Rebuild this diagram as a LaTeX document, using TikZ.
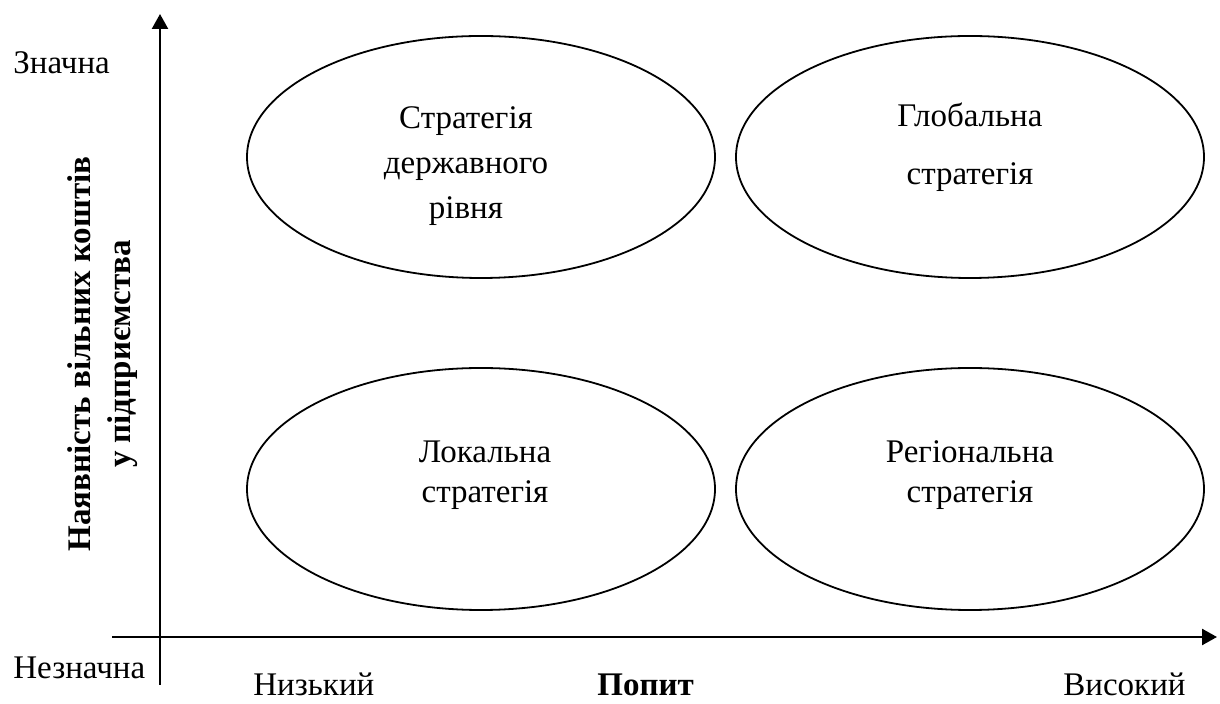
\documentclass[tikz,border=0pt]{standalone}
\usepackage{fontspec}
\setmainfont{Liberation Serif}
\usetikzlibrary{arrows.meta,positioning,shapes.geometric}
\tikzset{
oval/.style={draw,ellipse,line width=.9pt,minimum width=234pt,minimum height=121pt,inner sep=0pt},
stext/.style={align=center,inner sep=0pt,font=\fontsize{16.5}{22.5}\selectfont},
axlabel/.style={inner sep=0pt,font=\fontsize{16.5}{20}\selectfont},
axis/.style={-{Triangle[length=7.5pt,width=8pt]},line width=1.2pt}
}

\begin{document}
\begin{tikzpicture}[x=.5pt,y=-.5pt]
\useasboundingbox (0,0) rectangle (1220,704);
\coordinate (ybot) at (160,685);
\coordinate (ytop) at (160,14);
\coordinate (xleft) at (112,637);
\coordinate (xright) at (1217,637);

\draw[axis](ybot)--(ytop);
\draw[axis](xleft)--(xright);

\node[oval] (tl) at (481,157) {};
\node[oval] (tr) at (970,157) {};
\node[oval] (bl) at (481,489) {};
\node[oval] (br) at (970,489) {};

\node[stext] (tltext) at (466,166) {Стратегія\\державного\\рівня};
\node[stext,font=\fontsize{16.5}{29}\selectfont] (trtext) at (970,147) {Глобальна\\стратегія};
\node[stext,font=\fontsize{16.5}{20}\selectfont] (bltext) at (485,475) {Локальна\\стратегія};
\node[stext,font=\fontsize{16.5}{20}\selectfont] (brtext) at (970,475) {Регіональна\\стратегія};

\node[axlabel,anchor=base west] (high) at (13,74) {Значна};
\node[axlabel,anchor=base west] (low) at (13,678) {Незначна};
\node[axlabel,anchor=base west] (lowd) at (253,696) {Низький};
\node[axlabel,anchor=base west,font=\fontsize{16.5}{20}\selectfont\bfseries] (demand) at (597,696) {Попит};
\node[axlabel,anchor=base west] (highd) at (1063,696) {Високий};
\node[axlabel,rotate=90,align=center,font=\fontsize{16.5}{20}\selectfont\bfseries] (funds) at (103,354) {Наявність вільних коштів\\у підприємства};
\end{tikzpicture}
\end{document}
